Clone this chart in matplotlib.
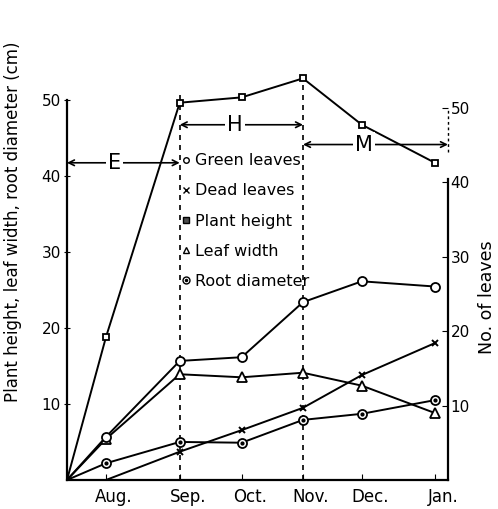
import matplotlib
matplotlib.use("Agg")
import matplotlib.pyplot as plt
import matplotlib.transforms as mtransforms
from matplotlib.lines import Line2D

# month positions (origin = planting, mid July)
months = ["Aug.", "Sep.", "Oct.", "Nov.", "Dec.", "Jan."]
x_pos = [0.63, 1.82, 2.82, 3.81, 4.76, 5.94]
x_orig = [0] + x_pos

# left axis (cm)
plant_height = [0, 18.8, 49.6, 50.3, 52.8, 46.7, 41.7]
leaf_width = [0, 5.4, 13.9, 13.5, 14.1, 12.4, 8.8]
root_diam = [0, 2.2, 5.0, 4.9, 7.9, 8.7, 10.5]

# right axis (number of leaves)
green_leaves = [0, 5.8, 16.0, 16.5, 23.9, 26.7, 26.0]
dead_leaves = [0, 3.8, 6.7, 9.7, 14.1, 18.4]
dead_x = x_pos

fig = plt.figure(figsize=(4.98, 5.09), dpi=100)
ax = fig.add_axes([0.1345, 0.057, 0.765, 0.8055])
ax2 = ax.twinx()

ax.set_xlim(0, 6.15)
ax.set_ylim(0, 53.9)
ax2.set_ylim(0, 55.1)

mk = dict(color="black", lw=1.4, markerfacecolor="white", markeredgecolor="black",
          markeredgewidth=1.3, zorder=3)

ax.plot(x_orig, plant_height, marker="s", markersize=4.5, markevery=list(range(1, 7)), **mk)
ax.plot(x_orig, leaf_width, marker="^", markersize=6.5, markevery=list(range(1, 7)), **mk)
ax.plot(x_orig, root_diam, marker="o", markersize=6.5, markevery=list(range(1, 7)), **mk)
ax.plot(x_pos, root_diam[1:], ls="none", marker="o", markersize=2, color="black", zorder=4)

ax2.plot(x_orig, green_leaves, marker="o", markersize=6.5, markevery=list(range(1, 7)), **mk)
ax2.plot(dead_x, dead_leaves, marker="x", markersize=5, markevery=list(range(1, 6)),
         color="black", lw=1.4, markeredgewidth=1.4, zorder=3)

# period dividers
ax.plot([x_pos[1], x_pos[1]], [0, 50.7], color="black", lw=1.2, ls=(0, (3, 3)), zorder=1)
ax.plot([x_pos[3], x_pos[3]], [0, 53.3], color="black", lw=1.2, ls=(0, (3, 3)), zorder=1)

arr = dict(arrowstyle="<->", color="black", lw=1.2, shrinkA=0, shrinkB=0)
ax.annotate("", xy=(0, 41.7), xytext=(x_pos[1], 41.7), arrowprops=arr)
ax.annotate("", xy=(x_pos[1], 46.7), xytext=(x_pos[3], 46.7), arrowprops=arr)
ax.annotate("", xy=(x_pos[3], 44.1), xytext=(6.15, 44.1), arrowprops=arr)
lab = dict(fontsize=15, ha="center", va="center",
           bbox=dict(facecolor="white", edgecolor="none", pad=1.5))
ax.text(0.77, 41.7, "E", **lab)
ax.text(2.71, 46.7, "H", **lab)
ax.text(4.80, 44.1, "M", **lab)

# legend
ring = Line2D([], [], ls="none", marker="o", markersize=5, markerfacecolor="white", markeredgecolor="black")
dot = Line2D([], [], ls="none", marker="o", markersize=1.5, color="black")
handles = [
    Line2D([], [], ls="none", marker="o", markersize=4, markerfacecolor="white", markeredgecolor="black"),
    Line2D([], [], ls="none", marker="x", markersize=4, color="black"),
    Line2D([], [], ls="none", marker="s", markersize=4, markerfacecolor="0.3", markeredgecolor="black"),
    Line2D([], [], ls="none", marker="^", markersize=4, markerfacecolor="white", markeredgecolor="black"),
    (ring, dot),
]
labels = ["Green leaves", "Dead leaves", "Plant height", "Leaf width", "Root diameter"]
ax2.legend(handles, labels, loc="upper left", bbox_to_anchor=(0.365, 0.699), bbox_transform=fig.transFigure,
           frameon=False, handlelength=0.5, handletextpad=0.35, labelspacing=0.95, fontsize=11.5,
           borderpad=0, borderaxespad=0)

# spines
for a in (ax, ax2):
    a.spines["top"].set_visible(False)
ax.spines["right"].set_visible(False)
ax2.spines["left"].set_visible(False)
ax2.spines["bottom"].set_visible(False)
ax.spines["left"].set_bounds(0, 50)
ax2.spines["right"].set_bounds(0, 40.5)
ax2.plot([6.15, 6.15], [44.1, 50], color="black", lw=1, ls=(0, (2, 2)), clip_on=False)
for a in (ax, ax2):
    for s in a.spines.values():
        s.set_linewidth(1.6)

ax.set_yticks([10, 20, 30, 40, 50])
ax.tick_params(axis="y", direction="inout", length=5, labelsize=11, pad=2)
ax2.set_yticks([10, 20, 30, 40, 50])
ax2.tick_params(axis="y", direction="in", length=4, labelsize=11, pad=2)

ax.set_xticks(x_pos)
ax.set_xticklabels(months)
ax.tick_params(axis="x", direction="in", length=4, labelsize=12, pad=6)
off = mtransforms.ScaledTranslation(8 / 100, 0, fig.dpi_scale_trans)
for t in ax.get_xticklabels():
    t.set_transform(t.get_transform() + off)

ax.set_ylabel("Plant height, leaf width, root diameter (cm)", fontsize=12)
ax.yaxis.set_label_coords(-0.118, 0.63)
ax2.set_ylabel("No. of leaves", fontsize=12.5, rotation=90)
ax2.yaxis.set_label_coords(1.078, 0.446)

fig.savefig("out.png", dpi=100)
